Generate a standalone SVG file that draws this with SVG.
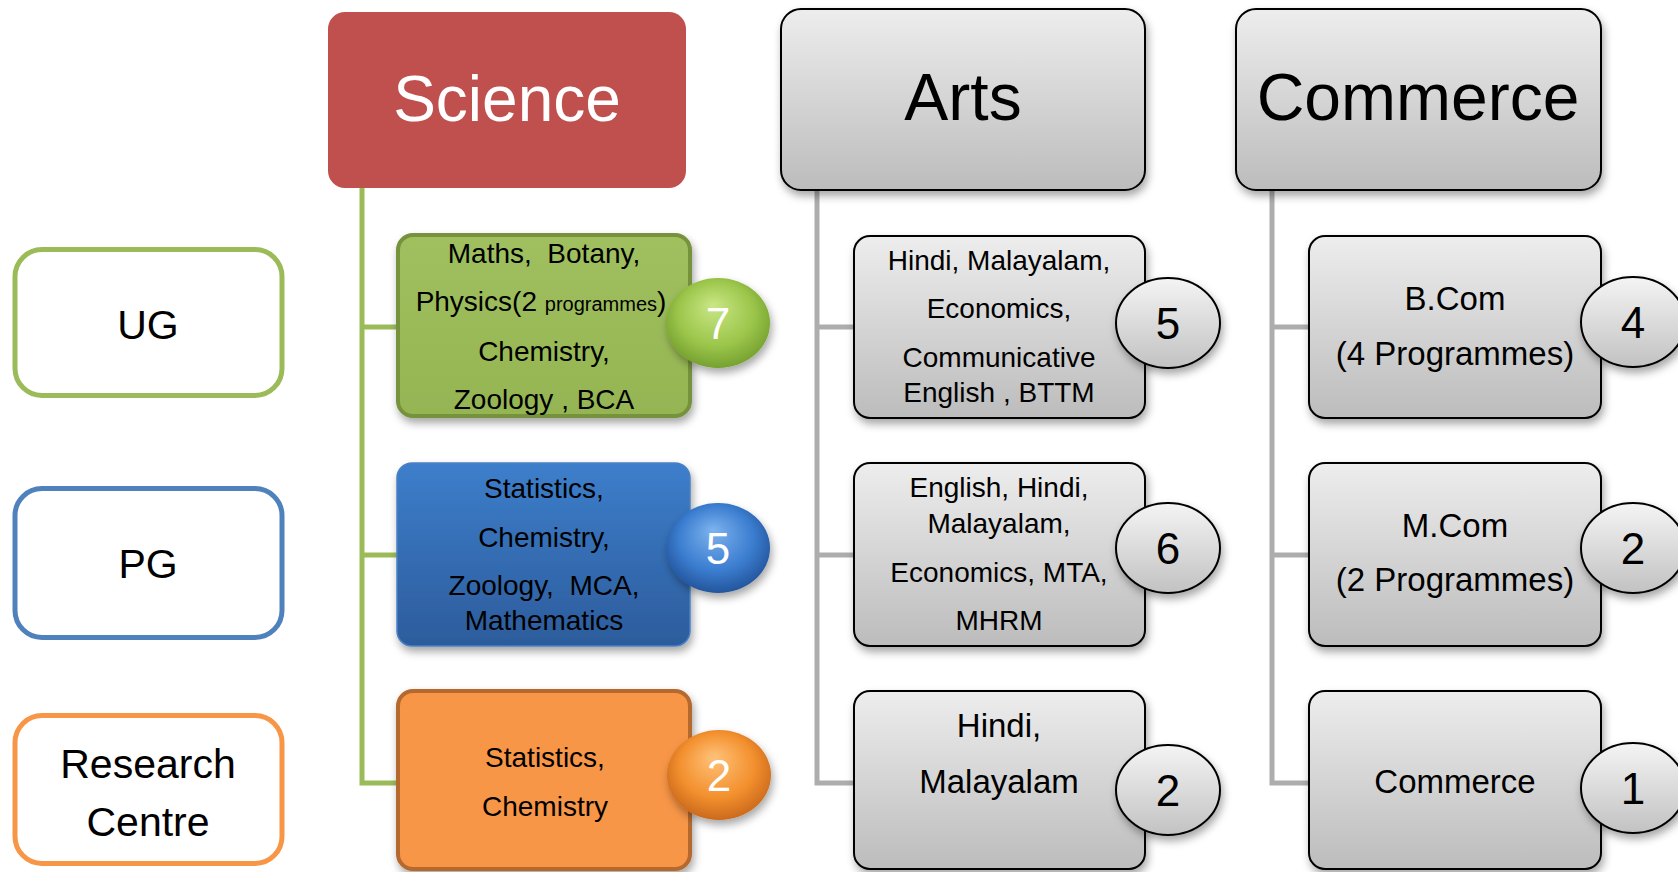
<svg xmlns="http://www.w3.org/2000/svg" width="1678" height="872" viewBox="0 0 1678 872">
<defs>
<linearGradient id="gGray" x1="0" y1="0" x2="0" y2="1"><stop offset="0" stop-color="#EDEDED"/><stop offset="1" stop-color="#BCBCBC"/></linearGradient>
<linearGradient id="gBlue" x1="0" y1="0" x2="0" y2="1"><stop offset="0" stop-color="#3D7ECB"/><stop offset="1" stop-color="#2C5C9C"/></linearGradient>
<linearGradient id="gGreen" x1="0" y1="0" x2="0" y2="1"><stop offset="0" stop-color="#A0C05F"/><stop offset="1" stop-color="#95B553"/></linearGradient>
<radialGradient id="bGreen" cx="0.5" cy="0.45" r="0.6" fx="0.45" fy="0.3"><stop offset="0" stop-color="#C9E685"/><stop offset="0.6" stop-color="#9CC64B"/><stop offset="1" stop-color="#6E9A2A"/></radialGradient>
<radialGradient id="bBlue" cx="0.5" cy="0.45" r="0.6" fx="0.45" fy="0.3"><stop offset="0" stop-color="#7DB3EE"/><stop offset="0.6" stop-color="#3B7DD0"/><stop offset="1" stop-color="#1F4E92"/></radialGradient>
<radialGradient id="bOrange" cx="0.5" cy="0.45" r="0.6" fx="0.45" fy="0.3"><stop offset="0" stop-color="#FFC27A"/><stop offset="0.6" stop-color="#F3902E"/><stop offset="1" stop-color="#C4621A"/></radialGradient>
<linearGradient id="bGray" x1="0" y1="0" x2="0" y2="1"><stop offset="0" stop-color="#F4F4F4"/><stop offset="1" stop-color="#C2C2C2"/></linearGradient>
<filter id="sh" x="-20%" y="-20%" width="140%" height="150%"><feDropShadow dx="2" dy="5" stdDeviation="4" flood-color="#000" flood-opacity="0.35"/></filter>
</defs>
<style>
text{font-family:"Liberation Sans",Arial,sans-serif;text-anchor:middle;fill:#000}
.lbl{font-size:41px}
.hd{font-size:64px}
.hd2{font-size:66px}
.t28{font-size:28px}
.t33{font-size:33px}
.dg{font-size:44px}
.w{fill:#FFFFFF}
.conn{fill:none;stroke-width:5}
.cg{stroke:#9BBB59}
.cy{stroke:#ADADAD}
.left{fill:#FFFFFF;stroke-width:5}
.gbox{fill:url(#gGray);stroke:#000;stroke-width:2;filter:url(#sh)}
.gbadge{fill:url(#bGray);stroke:#000;stroke-width:2;filter:url(#sh)}
.cbadge{filter:url(#sh)}
</style>

<g id="connectors">
<path class="conn cg" d="M362 188 V783 H398 M362 327 H398 M362 555 H398"/>
<path class="conn cy" d="M817 190 V783 H854 M817 327 H854 M817 555 H854"/>
<path class="conn cy" d="M1272 190 V783 H1309 M1272 327 H1309 M1272 555 H1309"/>
</g>

<g id="node-ug">
<rect class="left" x="15" y="249.5" width="267" height="146" rx="27" stroke="#9BBB59"/>
<text class="lbl" x="148" y="339">UG</text>
</g>
<g id="node-pg">
<rect class="left" x="15" y="488.5" width="267" height="149" rx="27" stroke="#4F81BD"/>
<text class="lbl" x="148" y="578">PG</text>
</g>
<g id="node-research">
<rect class="left" x="15" y="715.5" width="267" height="148" rx="27" stroke="#F79646"/>
<text class="lbl" x="148" y="778">Research</text>
<text class="lbl" x="148" y="836">Centre</text>
</g>

<g id="node-science">
<rect x="328" y="12" width="358" height="176" rx="17" fill="#C0504D"/>
<text class="hd w" x="507" y="121">Science</text>
</g>
<g id="node-arts">
<rect class="gbox" x="781" y="9" width="364" height="181" rx="20"/>
<text class="hd2" x="963" y="120">Arts</text>
</g>
<g id="node-commerce">
<rect class="gbox" x="1236" y="9" width="365" height="181" rx="20"/>
<text class="hd2" x="1418" y="120">Commerce</text>
</g>

<g id="node-sci-ug">
<rect x="398" y="235" width="292" height="181" rx="15" fill="url(#gGreen)" stroke="#76923C" stroke-width="4" filter="url(#sh)"/>
<text class="t28" x="544" y="263" xml:space="preserve">Maths,  Botany,</text>
<text class="t28" x="541" y="311">Physics(2 <tspan font-size="20">programmes</tspan>)</text>
<text class="t28" x="544" y="361">Chemistry,</text>
<text class="t28" x="544" y="409">Zoology , BCA</text>
<ellipse class="cbadge" cx="718" cy="323" rx="52" ry="45" fill="url(#bGreen)"/>
<text class="dg w" x="718" y="339">7</text>
</g>
<g id="node-sci-pg">
<rect x="397" y="463" width="293" height="183" rx="15" fill="url(#gBlue)" stroke="#4A80C4" stroke-width="1.5" filter="url(#sh)"/>
<text class="t28" x="544" y="498">Statistics,</text>
<text class="t28" x="544" y="547">Chemistry,</text>
<text class="t28" x="544" y="595" xml:space="preserve">Zoology,  MCA,</text>
<text class="t28" x="544" y="630">Mathematics</text>
<ellipse class="cbadge" cx="718" cy="548" rx="52" ry="45" fill="url(#bBlue)"/>
<text class="dg w" x="718" y="564">5</text>
</g>
<g id="node-sci-rc">
<rect x="398" y="691" width="292" height="178" rx="15" fill="#F79646" stroke="#B5692D" stroke-width="4" filter="url(#sh)"/>
<text class="t28" x="545" y="767">Statistics,</text>
<text class="t28" x="545" y="816">Chemistry</text>
<ellipse class="cbadge" cx="719" cy="775" rx="52" ry="45" fill="url(#bOrange)"/>
<text class="dg w" x="719" y="791">2</text>
</g>

<g id="node-arts-ug">
<rect class="gbox" x="854" y="236" width="291" height="182" rx="16"/>
<text class="t28" x="999" y="270">Hindi, Malayalam,</text>
<text class="t28" x="999" y="318">Economics,</text>
<text class="t28" x="999" y="367">Communicative</text>
<text class="t28" x="999" y="402">English , BTTM</text>
<ellipse class="gbadge" cx="1168" cy="323" rx="52" ry="45"/>
<text class="dg" x="1168" y="339">5</text>
</g>
<g id="node-arts-pg">
<rect class="gbox" x="854" y="463" width="291" height="183" rx="16"/>
<text class="t28" x="999" y="497">English, Hindi,</text>
<text class="t28" x="999" y="533">Malayalam,</text>
<text class="t28" x="999" y="582">Economics, MTA,</text>
<text class="t28" x="999" y="630">MHRM</text>
<ellipse class="gbadge" cx="1168" cy="548" rx="52" ry="45"/>
<text class="dg" x="1168" y="564">6</text>
</g>
<g id="node-arts-rc">
<rect class="gbox" x="854" y="691" width="291" height="178" rx="16"/>
<text class="t33" x="999" y="737">Hindi,</text>
<text class="t33" x="999" y="793">Malayalam</text>
<ellipse class="gbadge" cx="1168" cy="790" rx="52" ry="45"/>
<text class="dg" x="1168" y="806">2</text>
</g>

<g id="node-com-ug">
<rect class="gbox" x="1309" y="236" width="292" height="182" rx="16"/>
<text class="t33" x="1455" y="310">B.Com</text>
<text class="t33" x="1455" y="365">(4 Programmes)</text>
<ellipse class="gbadge" cx="1633" cy="322" rx="52" ry="45"/>
<text class="dg" x="1633" y="338">4</text>
</g>
<g id="node-com-pg">
<rect class="gbox" x="1309" y="463" width="292" height="183" rx="16"/>
<text class="t33" x="1455" y="537">M.Com</text>
<text class="t33" x="1455" y="591">(2 Programmes)</text>
<ellipse class="gbadge" cx="1633" cy="548" rx="52" ry="45"/>
<text class="dg" x="1633" y="564">2</text>
</g>
<g id="node-com-rc">
<rect class="gbox" x="1309" y="691" width="292" height="178" rx="16"/>
<text class="t33" x="1455" y="793">Commerce</text>
<ellipse class="gbadge" cx="1633" cy="788" rx="52" ry="45"/>
<text class="dg" x="1633" y="804">1</text>
</g>
</svg>
